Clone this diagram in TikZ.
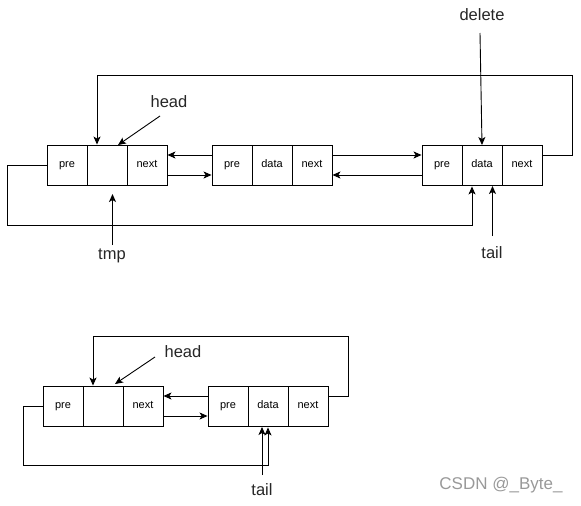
\documentclass[tikz,border=0pt]{standalone}
\usepackage{fontspec}
\setmainfont{Liberation Sans}
\usetikzlibrary{arrows.meta,calc}
\begin{document}
\begin{tikzpicture}[x=1pt,y=-1pt,
  cell/.style={draw,line width=0.9pt,minimum width=40pt,minimum height=40pt,inner sep=0pt,text height=8pt,text depth=2.5pt,font=\fontsize{11}{12}\selectfont},
  lbl/.style={inner sep=0pt,font=\fontsize{16.5}{18}\selectfont,text=black!85},
  conn/.style={line width=0.9pt},
  arr/.style={line width=0.9pt,-{Stealth[length=8pt,width=7pt,inset=2pt]}}]
\useasboundingbox (0,0) rectangle (581,506);
% top row
\node[cell] (n1p) at (67,165) {pre};
\node[cell] (n1d) at (107,165) {};
\node[cell] (n1n) at (147,165) {next};
\node[cell] (n2p) at (232,165) {pre};
\node[cell] (n2d) at (272,165) {data};
\node[cell] (n2n) at (312,165) {next};
\node[cell] (n3p) at (442,165) {pre};
\node[cell] (n3d) at (482,165) {data};
\node[cell] (n3n) at (522,165) {next};
\node[lbl] (head1) at (169,102) {head};
\node[lbl] (tmp) at (112,256) {tmp};
\node[lbl] (del) at (482,15) {delete};
\node[lbl] (tail1) at (492,253) {tail};
\coordinate (head1s) at (160,116);
\coordinate (head1e) at (118,145);
\coordinate (tmps) at (112.5,245);
\coordinate (tmpe) at (112.5,194);
\coordinate (dels) at (480,33);
\coordinate (dele) at (482,145);
\coordinate (tail1s) at (492.5,236);
\coordinate (tail1e) at (492.5,186);
\draw[arr] ($(n2p.west)+(0,-10)$) -- ($(n1n.east)+(0,-10)$);
\draw[arr] ($(n1n.east)+(0,10)$) -- ($(n2p.west)+(0,10)$);
\draw[arr] ($(n2n.east)+(0,-10)$) -- ($(n3p.west)+(0,-10)$);
\draw[arr] ($(n3p.west)+(0,10)$) -- ($(n2n.east)+(0,10)$);
\draw[arr] ($(n3n.east)+(0,-10)$) -| (572.5,75) -| ($(n1d.north)+(-10,0)$);
\draw[arr] (n1p.west) -| (7.5,225) -| ($(n3d.south)+(-10,1)$);
\draw[arr] (head1s) -- (head1e);
\draw[arr] (tmps) -- (tmpe);
\draw[arr] (dels) -- (dele);
\draw[arr] (tail1s) -- (tail1e);
% bottom row
\node[cell] (apr) at (63,406) {pre};
\node[cell] (ada) at (103,406) {};
\node[cell] (ane) at (143,406) {next};
\node[cell] (bpr) at (228,406) {pre};
\node[cell] (bda) at (268,406) {data};
\node[cell] (bne) at (308,406) {next};
\node[lbl] (head2) at (183,352) {head};
\node[lbl] (tail2) at (262,490) {tail};
\coordinate (head2s) at (155,357);
\coordinate (head2e) at (115,384);
\coordinate (tail2s) at (262,475);
\coordinate (tail2e) at (262,427);
\draw[arr] ($(bpr.west)+(0,-10)$) -- ($(ane.east)+(0,-10)$);
\draw[arr] ($(ane.east)+(0,10)$) -- ($(bpr.west)+(0,10)$);
\draw[arr] ($(bne.east)+(0,-10)$) -| (348.5,336) -| ($(ada.north)+(-10,0)$);
\draw[arr] (apr.west) -| (23.5,465) -| ($(bda.south)+(0,1)$);
\draw[arr] (head2s) -- (head2e);
\draw[arr] (tail2s) -- (tail2e);
% watermark
\node[inner sep=0pt,font=\fontsize{17}{18}\selectfont,text=black!40] (wm) at (501,485) {CSDN @\_Byte\_};
\end{tikzpicture}
\end{document}
